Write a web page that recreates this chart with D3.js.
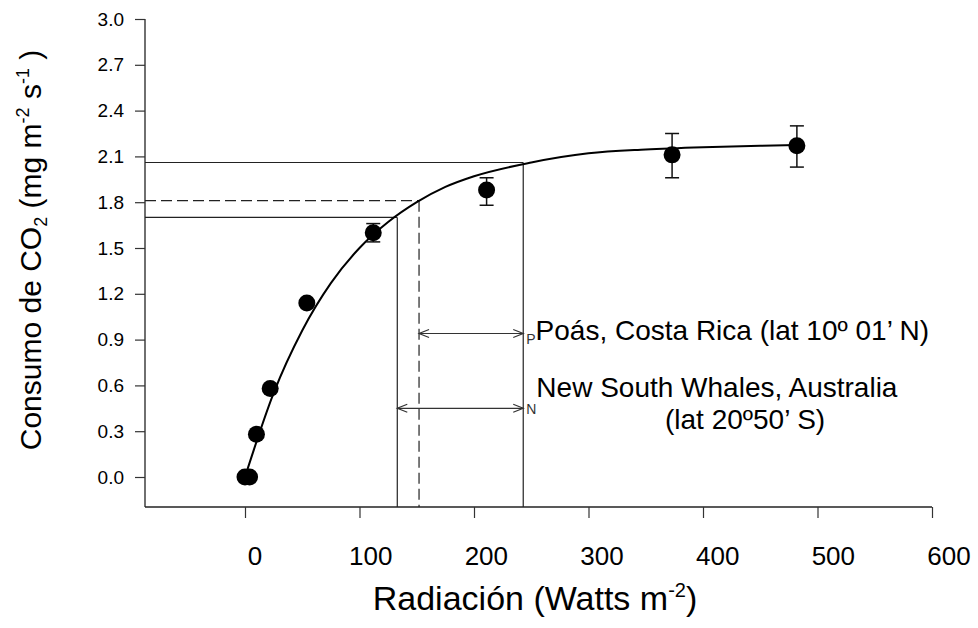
<!DOCTYPE html>
<html>
<head>
<meta charset="utf-8">
<script src="https://cdn.jsdelivr.net/npm/d3@7"></script>
<style>
  body { margin: 0; background: #fff; }
  text { font-family: Arial, "Liberation Sans", sans-serif; fill: #000; }
</style>
</head>
<body>
<div id="chart"></div>
<script>
// measured points (radiation W m-2, CO2 uptake mg m-2 s-1)
var radiation = [0, 4, 10, 22, 54, 112, 211, 373, 482]
var uptake    = [0, 0, 0.28, 0.58, 1.14, 1.60, 1.88, 2.11, 2.17]
var errLow    = [null, null, null, null, null, 1.54, 1.78, 1.96, 2.03]
var errHigh   = [null, null, null, null, null, 1.66, 1.96, 2.25, 2.30]

// fitted curve
var curveX = [0, 25, 50, 75, 100, 125, 150, 175, 200, 250, 300, 350, 400, 450, 482]
var curveY = [0, 0.55, 0.96, 1.27, 1.50, 1.67, 1.80, 1.90, 1.97, 2.06, 2.12, 2.145, 2.16, 2.17, 2.175]

var yTicks = [0, 0.3, 0.6, 0.9, 1.2, 1.5, 1.8, 2.1, 2.4, 2.7, 3.0]
var xTicks = [0, 100, 200, 300, 400, 500, 600]

// guide lines dropped from the curve
var guideX    = [133, 152, 243]
var guideY    = [1.70, 1.81, 2.06]
var guideDash = [false, true, false]

// range arrows
var rangeTag  = ["P", "N"]
var rangeText = ["Poás, Costa Rica (lat 10º 01’ N)", "New South Whales, Australia"]
var rangeFrom = [152, 133]
var rangeTo   = [243, 243]
var rangeAt   = [0.94, 0.45]

var W = 978, H = 628
var axisX = 145, axisY = 507

var svg = d3.select("#chart").append("svg")
    .attr("width", W)
    .attr("height", H)

var x = d3.scaleLinear().domain([0, 600]).range([245, 932])
var y = d3.scaleLinear().domain([0, 3]).range([477, 19])
// tick labels sit a little right of their ticks in the original
var xLab = d3.scaleLinear().domain([0, 600]).range([255, 949])

// axes lines
svg.append("line")
    .attr("x1", axisX).attr("x2", axisX)
    .attr("y1", y(3)).attr("y2", axisY)
    .attr("stroke", "#222").attr("stroke-width", 1.3)
svg.append("line")
    .attr("x1", axisX).attr("x2", x(600))
    .attr("y1", axisY).attr("y2", axisY)
    .attr("stroke", "#222").attr("stroke-width", 1.3)

var yAxis = svg.append("g")
    .attr("transform", "translate(" + axisX + ",0)")
    .call(d3.axisLeft(y).tickValues(yTicks).tickSize(10).tickPadding(11)
        .tickFormat(d3.format(".1f")))
yAxis.select(".domain").remove()
yAxis.selectAll("line").attr("stroke", "#333").attr("stroke-width", 1.2)
yAxis.selectAll("text")
    .attr("font-size", 19)
    .attr("font-family", "Arial, 'Liberation Sans', sans-serif")
    .attr("fill", "#222")

var xAxis = svg.append("g")
    .attr("transform", "translate(0," + axisY + ")")
    .call(d3.axisBottom(x).tickValues(xTicks).tickSize(11).tickFormat(""))
xAxis.select(".domain").remove()
xAxis.selectAll("line").attr("stroke", "#333").attr("stroke-width", 1.2)

svg.selectAll(".x-label")
    .data(xTicks)
    .enter()
    .append("text")
    .attr("class", "x-label")
    .attr("x", d => xLab(d))
    .attr("y", 565)
    .attr("text-anchor", "middle")
    .attr("font-size", 26)
    .text(d => d)

// guide lines
guideX.forEach(function(gx, i){
    var g = svg.append("g")
        .attr("stroke", "#222")
        .attr("stroke-width", 1.2)
        .attr("stroke-dasharray", guideDash[i] ? "11,5" : null)
    g.append("line")
        .attr("x1", axisX).attr("x2", x(gx))
        .attr("y1", y(guideY[i])).attr("y2", y(guideY[i]))
    g.append("line")
        .attr("x1", x(gx)).attr("x2", x(gx))
        .attr("y1", y(guideY[i])).attr("y2", axisY)
})

// fitted curve
var line = d3.line()
    .x(d => x(d[0]))
    .y(d => y(d[1]))
    .curve(d3.curveMonotoneX)

svg.append("path")
    .datum(curveX.map((d, i) => [d, curveY[i]]))
    .attr("d", line)
    .attr("fill", "none")
    .attr("stroke", "#000")
    .attr("stroke-width", 2)

// error bars
var pts = radiation.map((d, i) => ({x: d, y: uptake[i], lo: errLow[i], hi: errHigh[i]}))
var withErr = pts.filter(d => d.lo != null)

var eb = svg.selectAll(".err")
    .data(withErr)
    .enter()
    .append("g")
    .attr("class", "err")
    .attr("stroke", "#111")
    .attr("stroke-width", 1.5)
eb.append("line")
    .attr("x1", d => x(d.x)).attr("x2", d => x(d.x))
    .attr("y1", d => y(d.lo)).attr("y2", d => y(d.hi))
eb.append("line")
    .attr("x1", d => x(d.x) - 7).attr("x2", d => x(d.x) + 7)
    .attr("y1", d => y(d.lo)).attr("y2", d => y(d.lo))
eb.append("line")
    .attr("x1", d => x(d.x) - 7).attr("x2", d => x(d.x) + 7)
    .attr("y1", d => y(d.hi)).attr("y2", d => y(d.hi))

svg.selectAll(".dot")
    .data(pts)
    .enter()
    .append("circle")
    .attr("class", "dot")
    .attr("cx", d => x(d.x))
    .attr("cy", d => y(d.y))
    .attr("r", 8.5)
    .attr("fill", "#000")

// range arrows
function arrowHead(px, py, dir){
    return "M" + (px - dir * 10) + "," + (py - 4) + "L" + px + "," + py + "L" + (px - dir * 10) + "," + (py + 4)
}
// small tag under the arrow tip, then the site name (P row inline, N row raised)
var tagDy  = [4, 0]
var textDy = [-4, -17]
var rowDy  = [7, 6]
rangeTag.forEach(function(t, i){
    var yy = y(rangeAt[i]), xa = x(rangeFrom[i]), xb = x(rangeTo[i])
    var g = svg.append("g").attr("stroke", "#333").attr("stroke-width", 1.2).attr("fill", "none")
    g.append("line").attr("x1", xa).attr("x2", xb).attr("y1", yy).attr("y2", yy)
    g.append("path").attr("d", arrowHead(xa, yy, -1))
    g.append("path").attr("d", arrowHead(xb, yy, 1))

    var lab = svg.append("text")
        .attr("x", xb + 3)
        .attr("y", yy + rowDy[i])
        .attr("font-size", 28)
    lab.append("tspan")
        .attr("font-size", 14)
        .attr("fill", "#333")
        .attr("dy", tagDy[i])
        .text(t)
    lab.append("tspan")
        .attr("dy", textDy[i])
        .text(rangeText[i])
})

svg.append("text")
    .attr("x", 665).attr("y", 429)
    .attr("font-size", 28)
    .text("(lat 20º50’ S)")

// axis titles
var xt = svg.append("text")
    .attr("x", 535).attr("y", 610)
    .attr("text-anchor", "middle")
    .attr("font-size", 34)
xt.append("tspan").text("Radiación (Watts m")
xt.append("tspan").attr("font-size", 20).attr("dy", -13).text("-2")
xt.append("tspan").attr("dy", 13).text(")")

var yt = svg.append("text")
    .attr("transform", "translate(41,250) rotate(-90)")
    .attr("text-anchor", "middle")
    .attr("font-size", 30)
yt.append("tspan").text("Consumo de CO")
yt.append("tspan").attr("font-size", 18).attr("dy", 6).text("2")
yt.append("tspan").attr("dy", -6).text(" (mg m")
yt.append("tspan").attr("font-size", 18).attr("dy", -12).text("-2")
yt.append("tspan").attr("dy", 12).text(" s")
yt.append("tspan").attr("font-size", 18).attr("dy", -12).text("-1")
yt.append("tspan").attr("dy", 12).text(" )")
</script>
</body>
</html>
